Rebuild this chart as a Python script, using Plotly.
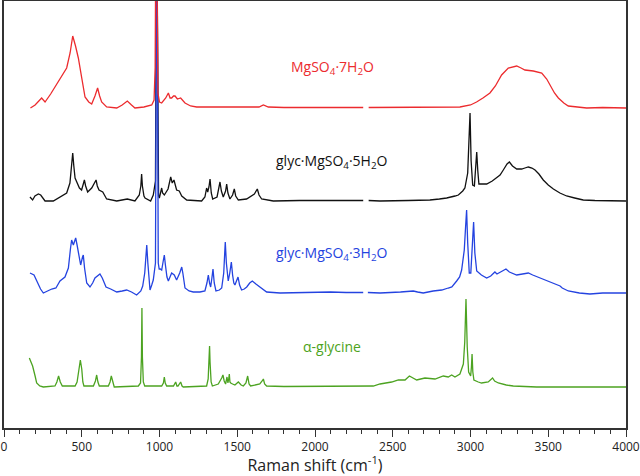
import plotly.graph_objects as go

# ---- Data (x: Raman shift in cm-1, y: intensity above each baseline, a.u.) ----
red_x = [170, 200, 242, 264, 300, 360, 403, 425, 442, 460, 478, 500, 521, 545, 564, 585, 602, 615, 628, 660,
         725, 760, 793, 820, 842, 900, 950, 965, 972, 979, 986, 990, 1000, 1014, 1040, 1057, 1068, 1078, 1090,
         1100, 1115, 1136, 1164, 1200, 1239, 1400, 1500, 1640, 1668, 1700, 1800, 2000, 2200, 2310,
         2328,
         2345, 2600, 2800, 2932, 3000, 3039, 3080, 3125, 3160, 3200, 3243, 3297, 3325, 3350, 3404, 3458, 3490,
         3511, 3540, 3565, 3600, 3629, 3700, 3747, 3850, 4000]
red_y = [0, 3, 10, 6, 14, 30, 40, 55, 72, 62, 50, 30, 11, 6, 4, 12, 20, 12, 6, 1,
         0, 3, 7, 3, 0, 1, 3, 8, 40, 250, 40, 15, 6, 5, 10, 15, 10, 10, 12,
         12, 9, 10, 5, 2, 1, 1, 1, 1, 3, 1, 0.5, 0.5, 0.5, 0.5,
         None,
         0.5, 0.5, 0.5, 1, 3, 6, 10, 15, 22, 33, 40, 42, 40, 38, 37, 35, 29,
         23, 15, 10, 5, 2, 0.5, 0, 0.5, 0]

black_x = [167, 184, 199, 221, 236, 264, 317, 360, 403, 424, 435, 442, 449, 457, 485, 499, 510, 517, 525, 538,
           564, 580, 592, 600, 611, 635, 660, 725, 793, 842, 870, 880, 885, 890, 900, 907, 943, 960, 974, 982,
           990, 994, 999, 1008, 1014, 1020, 1031, 1055, 1066, 1072, 1082, 1093, 1110, 1127, 1143, 1175, 1271,
           1292, 1303, 1310, 1318, 1325, 1333, 1342, 1370, 1382, 1389, 1398, 1410, 1425, 1432, 1440, 1453, 1470,
           1481, 1490, 1507, 1560, 1582, 1610, 1629, 1640, 1657, 1732, 1900, 2100, 2182, 2250, 2310,
           2328,
           2345, 2418, 2600, 2739, 2800, 2847, 2900, 2922, 2950, 2964, 2982, 2990, 2997, 3004, 3014, 3025, 3033,
           3040, 3047, 3054, 3080, 3104, 3140, 3168, 3190, 3211, 3235, 3250, 3270, 3297, 3329, 3350, 3372, 3395,
           3415, 3440, 3468, 3500, 3533, 3575, 3618, 3670, 3725, 3800, 3900, 4000]
black_y = [4, 1, 5, 7, 6, 0, 0, 4, 8, 18, 35, 48, 35, 23, 13, 11, 17, 21, 15, 9,
           13, 17, 21, 15, 11, 9, 2, 0, 2, 0, 6, 15, 27, 15, 5, 3, 0, 6, 20, 300,
           20, 5, 3, 8, 13, 8, 6, 12, 18, 24, 18, 21, 11, 10, 5, 1, 0,
           4, 13, 9, 14, 22, 8, 2, 4, 12, 19, 10, 4, 10, 17, 8, 2, 6,
           12, 5, 1, 2, 4, 7, 12, 6, 2, 0, 0.5, 0.5, 1, 0.5, 0.5,
           None,
           0.5, 0, 0.5, 1, 2, 3, 5, 6, 10, 13, 28, 55, 88, 40, 16, 15, 30,
           49, 30, 17, 17, 17, 20, 23, 26, 31, 37, 39, 35, 32, 32, 33, 34, 33,
           31, 27, 21, 16, 12, 8, 5, 3, 1, 0.5, 0, 0]

blue_x = [167, 193, 214, 235, 253, 280, 307, 334, 360, 392, 414, 428, 435, 446, 455, 461, 470, 478, 493, 505,
          510, 518, 532, 553, 570, 585, 600, 617, 632, 645, 656, 686, 725, 760, 789, 820, 853, 880, 892, 905,
          912, 918, 925, 932, 939, 950, 960, 974, 983, 992, 998, 1005, 1014, 1024, 1031, 1038, 1048, 1057,
          1068, 1078, 1095, 1110, 1130, 1143, 1150, 1164, 1190, 1217, 1260, 1292, 1305, 1314, 1322, 1329, 1337,
          1344, 1352, 1363, 1385, 1400, 1413, 1419, 1423, 1430, 1437, 1442, 1452, 1462, 1470, 1478, 1485, 1495,
          1505, 1515, 1528, 1545, 1561, 1580, 1597, 1620, 1646, 1670, 1689, 1775, 1900, 2100, 2200, 2310,
          2325,
          2340, 2418, 2550, 2632, 2660, 2696, 2760, 2815, 2857, 2880, 2911, 2930, 2943, 2953, 2960, 2968, 2975,
          2982, 2992, 3002, 3012, 3020, 3028, 3040, 3070, 3104, 3130, 3157, 3170, 3179, 3205, 3228, 3250, 3297,
          3330, 3372, 3400, 3447, 3490, 3533, 3555, 3576, 3590, 3629, 3700, 3768, 3850, 4000]
blue_y = [20, 18, 11, 4, 0, 2, 4, 5, 12, 16, 25, 45, 53, 48, 52, 55, 48, 40, 28, 36,
          38, 25, 10, 6, 10, 15, 17, 19, 15, 9, 6, 4, 1, 2, 3, 1, -2, 2, 7, 20,
          38, 48, 30, 10, 3, 8, 13, 30, 400, 30, 24, 24, 23, 32, 38, 28, 16, 12,
          17, 20, 18, 13, 20, 26, 20, 5, 2, 1, 1, 2, 10, 18, 10, 6, 15,
          24, 10, 2, 3, 5, 20, 40, 51, 30, 16, 12, 20, 31, 18, 10, 8, 12,
          16, 8, 3, 4, 6, 10, 12, 9, 6, 3, 1, 0, 0.5, 1, 0.5, 0.5,
          None,
          0.5, 0, 1, 2, 1, 0, 2, 3, 5, 6, 12, 16, 23, 33, 43, 65, 83,
          50, 20, 20, 45, 71, 40, 22, 18, 15, 17, 21, 19, 20, 22, 24, 21, 18,
          19, 20, 18, 15, 12, 9, 8, 7, 5, 2, 0, -1, 0, 0]

green_x = [163, 184, 200, 210, 230, 253, 328, 340, 351, 362, 375, 457, 470, 482, 491, 500, 507, 514, 575, 588,
           596, 604, 613, 671, 682, 690, 698, 709, 864, 878, 884, 887, 890, 896, 905, 1014, 1025, 1031, 1037,
           1046, 1090, 1104, 1112, 1119, 1136, 1145, 1153, 1303, 1313, 1319, 1322, 1325, 1332, 1340, 1378, 1400,
           1408, 1416, 1425, 1434, 1440, 1445, 1449, 1453, 1458, 1470, 1485, 1507, 1525, 1539, 1556, 1567, 1576,
           1586, 1625, 1645, 1660, 1668, 1676, 1689, 1800, 2000, 2118, 2200, 2300, 2375, 2418, 2493, 2536, 2579,
           2607, 2630, 2654, 2680, 2707, 2772, 2825, 2857, 2879, 2900, 2932, 2954, 2963, 2971, 2979, 2988, 3001,
           3006, 3010, 3015, 3022, 3050, 3071, 3114, 3130, 3142, 3155, 3179, 3230, 3275, 3425, 4000]
green_y = [29, 21, 11, 4, 1, 0, 1, 5, 11, 5, 1, 1, 5, 18, 27, 18, 5, 1, 1, 6,
           12, 5, 1, 1, 5, 11, 5, 0, 1, 4, 30, 79, 30, 5, 1, 1, 4, 10, 4,
           1, 1, 5, 1, 1, 5, 1, 0, 1, 8, 25, 41, 25, 5, 1, 3, 9,
           12, 6, 3, 10, 4, 8, 13, 5, 4, 3, 2, 5, 2, 1, 4, 11, 3,
           1, 2, 3, 6, 8, 3, 1, 0.5, 0.5, 1, 1, 1, 1, 3, 5, 7, 7,
           11, 9, 7, 8, 9, 8, 11, 10, 12, 10, 13, 23, 45, 88, 40, 15, 11,
           20, 33, 15, 7, 5, 4, 5, 7, 9, 6, 4, 2, 1, 0, 0]

series_names = ["MgSO<sub>4</sub>·7H<sub>2</sub>O", "glyc·MgSO<sub>4</sub>·5H<sub>2</sub>O",
                "glyc·MgSO<sub>4</sub>·3H<sub>2</sub>O", "α-glycine"]
series_offsets = [320, 227, 135, 41]
series_colors = ["#ec2b2e", "#111111", "#2443e0", "#4ca321"]
label_pos_x = [2110, 2110, 2110, 2110]
label_pos_y = [361, 267, 175, 82]
x_ticks = [0, 500, 1000, 1500, 2000, 2500, 3000, 3500, 4000]

xs = [red_x, black_x, blue_x, green_x]
ys = [red_y, black_y, blue_y, green_y]

fig = go.Figure()
draw_order = [1, 2, 0, 3]
for i in draw_order:
    yy = [None if v is None else v + series_offsets[i] for v in ys[i]]
    fig.add_trace(go.Scatter(x=xs[i], y=yy, mode="lines", connectgaps=False,
                             line=dict(color=series_colors[i], width=1.3),
                             name=series_names[i], showlegend=False, hoverinfo="skip"))

for i in range(4):
    fig.add_annotation(x=label_pos_x[i], y=label_pos_y[i], text=series_names[i], showarrow=False,
                       font=dict(family="Open Sans", size=14, color=series_colors[i]),
                       xanchor="center", yanchor="middle")

fig.update_layout(
    width=640, height=476,
    margin=dict(l=4, r=14, t=1, b=48, autoexpand=False),
    paper_bgcolor="white", plot_bgcolor="white",
    font=dict(family="Open Sans", color="#222"),
)
fig.update_xaxes(
    range=[0, 4000], tickvals=x_ticks, ticktext=[str(t) for t in x_ticks],
    ticks="outside", ticklen=7, tickwidth=1, tickcolor="#333",
    showline=True, linecolor="#333", linewidth=1.5, mirror=True,
    showgrid=False, zeroline=False, automargin=False,
    tickfont=dict(size=12, color="#222"),
    minor=dict(dtick=100, tick0=0, ticks="outside", ticklen=4, tickwidth=1, tickcolor="#333", showgrid=False),
    title=dict(text="Raman shift (cm<sup>-1</sup>)", font=dict(size=16, color="#222"), standoff=7),
)
fig.update_yaxes(
    range=[0, 427], showticklabels=False, ticks="",
    showline=True, linecolor="#333", linewidth=1.5, mirror=True,
    showgrid=False, zeroline=False, automargin=False,
)

fig.write_html("out.html", config={"displayModeBar": False},
               post_script="document.body.style.margin='0';document.body.style.overflow='hidden';")
